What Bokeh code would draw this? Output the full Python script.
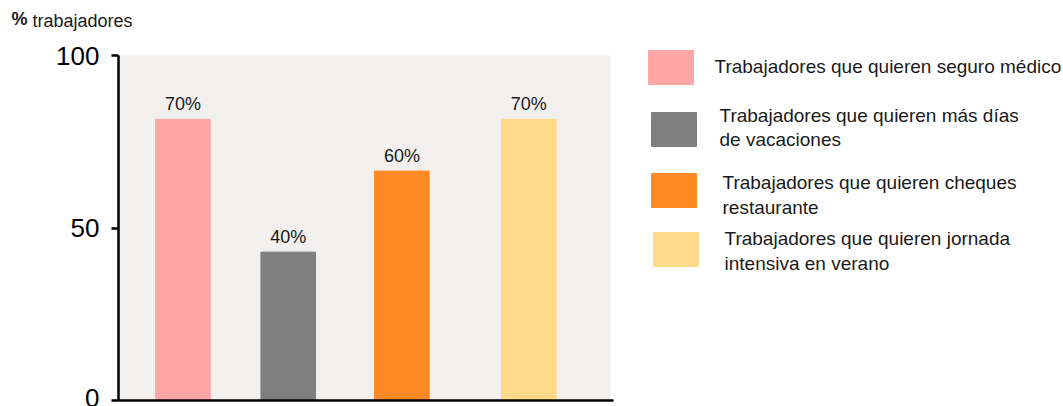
from bokeh.plotting import figure
from bokeh.models import Range1d, FixedTicker, Label, ColumnDataSource, BoxAnnotation
from bokeh.embed import file_html
from bokeh.resources import INLINE
from bokeh.core.properties import value

# ---- data ----
categories = ["Seguro médico", "Más días de vacaciones", "Cheques restaurante", "Jornada intensiva en verano"]
bar_heights = [81.5, 43.0, 66.5, 81.5]
bar_labels = ["70%", "40%", "60%", "70%"]
legend_labels = [
    "Trabajadores que quieren seguro médico",
    "Trabajadores que quieren más días\nde vacaciones",
    "Trabajadores que quieren cheques\nrestaurante",
    "Trabajadores que quieren jornada\nintensiva en verano",
]
y_ticks = [0, 50, 100]
y_title_symbol = "%"
y_title_text = "trabajadores"

# ---- style / layout ----
colors = ["#FFA6A6", "#7F7F7F", "#FF8A25", "#FED98A"]
slot_x = [13.1, 34.5, 57.6, 83.4]      # bar slot centres (x axis spans 0..100 over the grey panel)
FONT = "Liberation Sans"
TXT = "#1a1a1a"

W, H = 1063, 406
FL, FR, FT, FB = 118, 1063, 45, 402     # frame edges in canvas px
PX_X = (610 - FL) / 100.0
PX_Y = (400 - 55) / 100.0
Y0 = 400

def dx(px):
    return (px - FL) / PX_X

def dy(py):
    return (Y0 - py) / PX_Y

p = figure(width=W, height=H, title=None,
           x_range=Range1d(dx(FL), dx(FR)), y_range=Range1d(dy(FB), dy(FT)),
           output_backend="svg", toolbar_location=None, x_axis_location=None,
           min_border_left=FL, min_border_right=W - FR, min_border_top=FT, min_border_bottom=H - FB)
p.background_fill_color = "white"
p.border_fill_color = "white"
p.outline_line_color = None
p.grid.grid_line_color = None

p.add_layout(BoxAnnotation(left=0, right=100, bottom=0, top=100, fill_color="#F1F0EE",
                           fill_alpha=1, line_color=None, level="underlay"))

ax = p.yaxis[0]
ax.ticker = FixedTicker(ticks=y_ticks)
ax.bounds = (0, 100)
ax.axis_line_width = 2.5
ax.axis_line_color = "black"
ax.major_tick_line_width = 2.5
ax.major_tick_line_color = "black"
ax.major_tick_out = 7
ax.major_tick_in = 0
ax.minor_tick_line_color = None
ax.major_label_text_font = FONT
ax.major_label_text_font_size = "26px"
ax.major_label_text_color = "black"
ax.major_label_standoff = 12

src = ColumnDataSource(dict(x=slot_x, top=bar_heights, label=bar_labels, color=colors, cat=categories))
p.vbar(x="x", top="top", bottom=0, width=11.1, color="color", source=src)
p.text(x="x", y="top", text="label", text_align="center", text_baseline="bottom", y_offset=-5,
       text_font=value(FONT), text_font_size="18px", text_color=TXT, source=src)

p.segment(x0=[dx(110)], y0=[0], x1=[dx(613)], y1=[0], line_color="black", line_width=2.5)

# y title ("%" bold + "trabajadores"), placed in the top side panels (stacked)
p.add_layout(Label(x=11 - FL, y=26.5, x_units="screen", y_units="screen", text=y_title_symbol,
                   text_font=FONT, text_font_size="18px", text_font_style="bold", text_color=TXT,
                   text_baseline="alphabetic"), "above")
p.add_layout(Label(x=32 - FL, y=5.0, x_units="screen", y_units="screen", text=y_title_text,
                   text_font=FONT, text_font_size="18px", text_color=TXT, text_baseline="alphabetic"),
             "above")

# ---- legend ----
sq_px = [670.5, 673.5, 673.5, 675.5]
sq_cy = [67, 129, 190, 249]
tx_px = [714, 719, 722, 724]
tx_cy = [66, 127, 194.5, 250.5]
sq = ColumnDataSource(dict(x=[dx(v) for v in sq_px], y=[dy(v) for v in sq_cy], color=colors))
lt = ColumnDataSource(dict(x=[dx(v) for v in tx_px], y=[dy(v) for v in tx_cy], text=legend_labels))
p.rect(x="x", y="y", width=45, height=34, width_units="screen", height_units="screen",
       color="color", source=sq)
p.text(x="x", y="y", text="text", text_align="left", text_baseline="middle", text_line_height=1.18,
       text_font=value(FONT), text_font_size="19px", text_color=TXT, source=lt)

open("out.html", "w").write(file_html(p, INLINE))
